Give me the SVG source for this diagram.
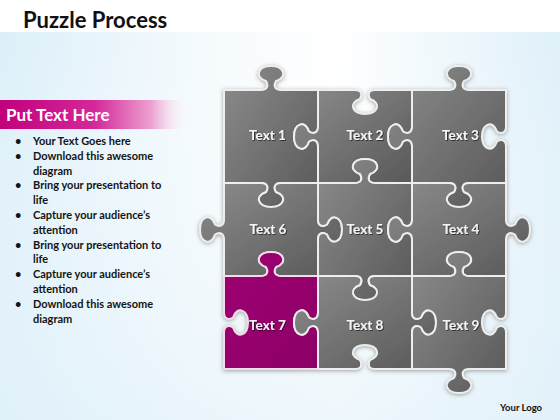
<svg xmlns="http://www.w3.org/2000/svg" width="560" height="420" viewBox="0 0 560 420">
<defs>
<linearGradient id="bg" x1="0" y1="0" x2="1" y2="0">
<stop offset="0" stop-color="#dceff9"/>
<stop offset="0.35" stop-color="#f4fafd"/>
<stop offset="0.6" stop-color="#ffffff"/>
<stop offset="1" stop-color="#dff0f9"/>
</linearGradient>
<linearGradient id="bgv" x1="0" y1="0" x2="0" y2="1">
<stop offset="0" stop-color="#ffffff" stop-opacity="0"/>
<stop offset="1" stop-color="#e3f2fa" stop-opacity="0.6"/>
</linearGradient>
<linearGradient id="bar" x1="0" y1="0" x2="1" y2="0">
<stop offset="0" stop-color="#c2007c"/>
<stop offset="0.5" stop-color="#d3299a"/>
<stop offset="0.8" stop-color="#eea3d2"/>
<stop offset="1" stop-color="#ffffff" stop-opacity="0"/>
</linearGradient>
<linearGradient id="gray" x1="0" y1="0" x2="1" y2="1">
<stop offset="0" stop-color="#8c8c8c"/>
<stop offset="0.5" stop-color="#727272"/>
<stop offset="1" stop-color="#595959"/>
</linearGradient>
<linearGradient id="mag" x1="0" y1="0" x2="1" y2="1">
<stop offset="0" stop-color="#9e0073"/>
<stop offset="1" stop-color="#8d0066"/>
</linearGradient>
<filter id="shadow" x="-10%" y="-10%" width="120%" height="120%">
<feDropShadow dx="0" dy="1" stdDeviation="2" flood-color="#5a5a5a" flood-opacity="0.55"/>
</filter>
<filter id="tshadow" x="-20%" y="-40%" width="140%" height="180%">
<feDropShadow dx="0.8" dy="0.8" stdDeviation="0.6" flood-color="#000000" flood-opacity="0.7"/>
</filter>
</defs>
<style>
.piece{fill:url(#gray);stroke:#eeeeee;stroke-width:2;stroke-linejoin:round}
.pmag{fill:url(#mag);stroke:#f3dbe9;stroke-width:2;stroke-linejoin:round}
.lbl{font-family:Lato,"Liberation Sans",sans-serif;font-size:13.5px;font-weight:bold;fill:#f4f4f4;text-anchor:middle;filter:url(#tshadow)}
.blt{font-family:Lato,"Liberation Sans",sans-serif;font-size:11px;font-weight:bold;fill:#141414}
</style>
<rect x="0" y="0" width="560" height="420" fill="#ffffff"/>
<rect x="0" y="32" width="560" height="388" fill="url(#bg)"/>
<rect x="0" y="32" width="560" height="388" fill="url(#bgv)"/>
<text x="23" y="28" font-family="Lato,'Liberation Sans',sans-serif" font-size="22" font-weight="bold" fill="#111111">Puzzle Process</text>
<g id="sidebar">
<rect x="0" y="100" width="190" height="29" fill="url(#bar)"/>
<text x="6" y="121" font-family="Lato,'Liberation Sans',sans-serif" font-size="17" font-weight="bold" fill="#ffffff">Put Text Here</text>
<g class="blt">
<text x="15" y="145">•</text><text x="33" y="145">Your Text Goes here</text>
<text x="15" y="159.8">•</text><text x="33" y="159.8">Download this awesome</text>
<text x="33" y="174.6">diagram</text>
<text x="15" y="189.4">•</text><text x="33" y="189.4">Bring your presentation to</text>
<text x="33" y="204.2">life</text>
<text x="15" y="219">•</text><text x="33" y="219">Capture your audience’s</text>
<text x="33" y="233.8">attention</text>
<text x="15" y="248.6">•</text><text x="33" y="248.6">Bring your presentation to</text>
<text x="33" y="263.4">life</text>
<text x="15" y="278.2">•</text><text x="33" y="278.2">Capture your audience’s</text>
<text x="33" y="293">attention</text>
<text x="15" y="307.8">•</text><text x="33" y="307.8">Download this awesome</text>
<text x="33" y="322.6">diagram</text>
</g>
</g>
<g id="puzzle" filter="url(#shadow)">
<g id="piece1"><path class="piece" d="M224,90 H261 c6,0 8,-4 5,-9 c-12,-4 -8,-15 5,-15 c13,0 17,11 5,15 c-3,5 -1,9 5,9 H318 V126.5 c0,6 -4,8 -9,5 c-4,-12 -15,-8 -15,5 c0,13 11,17 15,5 c5,-3 9,-1 9,5 V183 H281 c-6,0 -8,4 -5,9 c12,4 8,15 -5,15 c-13,0 -17,-11 -5,-15 c3,-5 1,-9 -5,-9 H224 Z"/></g>
<g id="piece2"><path class="piece" d="M318,90 H355 c6,0 8,4 5,9 c-12,4 -8,15 5,15 c13,0 17,-11 5,-15 c-3,-5 -1,-9 5,-9 H412 V126.5 c0,6 -4,8 -9,5 c-4,-12 -15,-8 -15,5 c0,13 11,17 15,5 c5,-3 9,-1 9,5 V183 H375 c-6,0 -8,-4 -5,-9 c12,-4 8,-15 -5,-15 c-13,0 -17,11 -5,15 c3,5 1,9 -5,9 H318 V146.5 c0,-6 -4,-8 -9,-5 c-4,12 -15,8 -15,-5 c0,-13 11,-17 15,-5 c5,3 9,1 9,-5 Z"/></g>
<g id="piece3"><path class="piece" d="M412,90 H449 c6,0 8,-4 5,-9 c-12,-4 -8,-15 5,-15 c13,0 17,11 5,15 c-3,5 -1,9 5,9 H506 V126.5 c0,6 -4,8 -9,5 c-4,-12 -15,-8 -15,5 c0,13 11,17 15,5 c5,-3 9,-1 9,5 V183 H469 c-6,0 -8,4 -5,9 c12,4 8,15 -5,15 c-13,0 -17,-11 -5,-15 c3,-5 1,-9 -5,-9 H412 V146.5 c0,-6 -4,-8 -9,-5 c-4,12 -15,8 -15,-5 c0,-13 11,-17 15,-5 c5,3 9,1 9,-5 Z"/></g>
<g id="piece6"><path class="piece" d="M224,183 H261 c6,0 8,4 5,9 c-12,4 -8,15 5,15 c13,0 17,-11 5,-15 c-3,-5 -1,-9 5,-9 H318 V219.5 c0,6 4,8 9,5 c4,-12 15,-8 15,5 c0,13 -11,17 -15,5 c-5,-3 -9,-1 -9,5 V276 H281 c-6,0 -8,-4 -5,-9 c12,-4 8,-15 -5,-15 c-13,0 -17,11 -5,15 c3,5 1,9 -5,9 H224 V239.5 c0,-6 -4,-8 -9,-5 c-4,12 -15,8 -15,-5 c0,-13 11,-17 15,-5 c5,3 9,1 9,-5 Z"/></g>
<g id="piece5"><path class="piece" d="M318,183 H355 c6,0 8,-4 5,-9 c-12,-4 -8,-15 5,-15 c13,0 17,11 5,15 c-3,5 -1,9 5,9 H412 V219.5 c0,6 -4,8 -9,5 c-4,-12 -15,-8 -15,5 c0,13 11,17 15,5 c5,-3 9,-1 9,5 V276 H375 c-6,0 -8,4 -5,9 c12,4 8,15 -5,15 c-13,0 -17,-11 -5,-15 c3,-5 1,-9 -5,-9 H318 V239.5 c0,-6 4,-8 9,-5 c4,12 15,8 15,-5 c0,-13 -11,-17 -15,-5 c-5,3 -9,1 -9,-5 Z"/></g>
<g id="piece4"><path class="piece" d="M412,183 H449 c6,0 8,4 5,9 c-12,4 -8,15 5,15 c13,0 17,-11 5,-15 c-3,-5 -1,-9 5,-9 H506 V219.5 c0,6 4,8 9,5 c4,-12 15,-8 15,5 c0,13 -11,17 -15,5 c-5,-3 -9,-1 -9,5 V276 H469 c-6,0 -8,-4 -5,-9 c12,-4 8,-15 -5,-15 c-13,0 -17,11 -5,15 c3,5 1,9 -5,9 H412 V239.5 c0,-6 -4,-8 -9,-5 c-4,12 -15,8 -15,-5 c0,-13 11,-17 15,-5 c5,3 9,1 9,-5 Z"/></g>
<g id="piece7"><path class="pmag" d="M224,276 H261 c6,0 8,-4 5,-9 c-12,-4 -8,-15 5,-15 c13,0 17,11 5,15 c-3,5 -1,9 5,9 H318 V312.5 c0,6 -4,8 -9,5 c-4,-12 -15,-8 -15,5 c0,13 11,17 15,5 c5,-3 9,-1 9,5 V369 H224 V332.5 c0,-6 4,-8 9,-5 c4,12 15,8 15,-5 c0,-13 -11,-17 -15,-5 c-5,3 -9,1 -9,-5 Z"/></g>
<g id="piece8"><path class="piece" d="M318,276 H355 c6,0 8,4 5,9 c-12,4 -8,15 5,15 c13,0 17,-11 5,-15 c-3,-5 -1,-9 5,-9 H412 V312.5 c0,6 4,8 9,5 c4,-12 15,-8 15,5 c0,13 -11,17 -15,5 c-5,-3 -9,-1 -9,5 V369 H375 c-6,0 -8,-4 -5,-9 c12,-4 8,-15 -5,-15 c-13,0 -17,11 -5,15 c3,5 1,9 -5,9 H318 V332.5 c0,-6 -4,-8 -9,-5 c-4,12 -15,8 -15,-5 c0,-13 11,-17 15,-5 c5,3 9,1 9,-5 Z"/></g>
<g id="piece9"><path class="piece" d="M412,276 H449 c6,0 8,-4 5,-9 c-12,-4 -8,-15 5,-15 c13,0 17,11 5,15 c-3,5 -1,9 5,9 H506 V312.5 c0,6 -4,8 -9,5 c-4,-12 -15,-8 -15,5 c0,13 11,17 15,5 c5,-3 9,-1 9,5 V369 H469 c-6,0 -8,4 -5,9 c12,4 8,15 -5,15 c-13,0 -17,-11 -5,-15 c3,-5 1,-9 -5,-9 H412 V332.5 c0,-6 4,-8 9,-5 c4,12 15,8 15,-5 c0,-13 -11,-17 -15,-5 c-5,3 -9,1 -9,-5 Z"/></g>
</g>
<g id="labels">
<text class="lbl" x="267.5" y="139.5">Text 1</text>
<text class="lbl" x="365" y="139.5">Text 2</text>
<text class="lbl" x="460.5" y="139.5">Text 3</text>
<text class="lbl" x="268" y="233.5">Text 6</text>
<text class="lbl" x="365" y="233.5">Text 5</text>
<text class="lbl" x="461" y="233.5">Text 4</text>
<text class="lbl" x="267.5" y="330">Text 7</text>
<text class="lbl" x="365" y="330">Text 8</text>
<text class="lbl" x="461" y="330">Text 9</text>
</g>
<g id="connectors"/>
<text x="500" y="411" font-family="Lato,'Liberation Sans',sans-serif" font-size="9.5" font-weight="bold" fill="#111111">Your Logo</text>
</svg>
